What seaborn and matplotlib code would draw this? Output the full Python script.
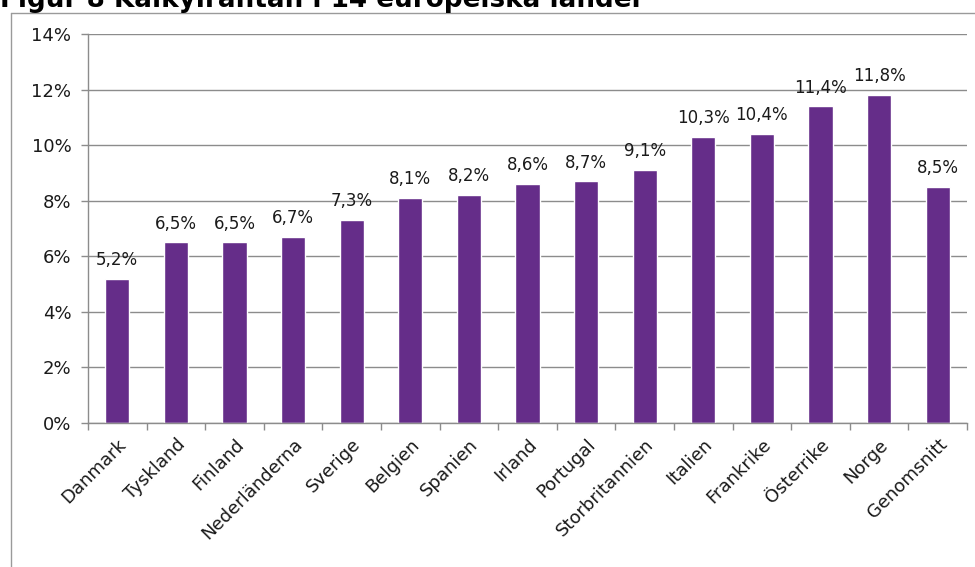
import matplotlib
matplotlib.use("Agg")
import matplotlib.pyplot as plt
import seaborn as sns
import numpy as np
import pandas as pd
from matplotlib.lines import Line2D
from matplotlib.ticker import FuncFormatter, FixedLocator

countries = ["Danmark", "Tyskland", "Finland", "Nederländerna", "Sverige",
             "Belgien", "Spanien", "Irland", "Portugal", "Storbritannien",
             "Italien", "Frankrike", "Österrike", "Norge", "Genomsnitt"]
rates = [5.2, 6.5, 6.5, 6.7, 7.3, 8.1, 8.2, 8.6, 8.7, 9.1,
         10.3, 10.4, 11.4, 11.8, 8.5]
y_ticks = [0, 2, 4, 6, 8, 10, 12, 14]
title = "Figur 8 Kalkylräntan i 14 europeiska länder"

sns.set_style("white")
plt.rcParams["font.family"] = ["DejaVu Sans"]

df = pd.DataFrame({"land": countries, "ranta": rates})

fig = plt.figure(figsize=(9.75, 5.67), dpi=100)
W, H = 975, 567
ax = fig.add_axes([88 / W, 1 - 423 / H, (967 - 88) / W, (423 - 34) / H])

sns.barplot(data=df, x="land", y="ranta", color="#652D89", saturation=1,
            width=0.41, ax=ax)

ax.set_ylim(0, 14)
ax.set_xlim(-0.5, len(countries) - 0.5)
ax.yaxis.set_major_locator(FixedLocator(y_ticks))
ax.yaxis.set_major_formatter(FuncFormatter(lambda v, p: f"{int(v)}%"))
ax.grid(axis="y", color="#8C8C8C", linewidth=1)
ax.set_axisbelow(True)
ax.set_xlabel("")
ax.set_ylabel("")

for s in ["top", "right"]:
    ax.spines[s].set_visible(False)
for s in ["left", "bottom"]:
    ax.spines[s].set_color("#8C8C8C")
    ax.spines[s].set_linewidth(1)

ax.tick_params(axis="y", length=5, width=1, color="#8C8C8C", direction="out",
               labelsize=13, pad=7, left=True, labelcolor="#1A1A1A")
ax.set_xticks(range(len(countries)))
ax.set_xticklabels(countries, rotation=45, ha="right", rotation_mode="anchor",
                   fontsize=13, color="#1A1A1A")
ax.tick_params(axis="x", which="major", length=0, pad=9)
ax.set_xticks(np.arange(-0.5, len(countries), 1.0), minor=True)
ax.tick_params(axis="x", which="minor", length=5, width=1, color="#8C8C8C",
               direction="out", bottom=True)

for i, v in enumerate(rates):
    ax.annotate(f"{v:.1f}%".replace(".", ","), (i, v), xytext=(0, 7),
                textcoords="offset points", ha="center", va="bottom",
                fontsize=12, color="#1A1A1A")

# Outer chart frame (left and top edges)
fig.add_artist(Line2D([10.5 / W, 10.5 / W], [0, 1 - 12.5 / H],
                      transform=fig.transFigure, color="#9A9A9A", lw=1))
fig.add_artist(Line2D([10.5 / W, 1], [1 - 12.5 / H, 1 - 12.5 / H],
                      transform=fig.transFigure, color="#9A9A9A", lw=1))

fig.text(0, 1 - 7 / H, title, fontsize=18.9, fontweight="bold",
         ha="left", va="baseline", color="black")

fig.savefig("out.png", dpi=100)
